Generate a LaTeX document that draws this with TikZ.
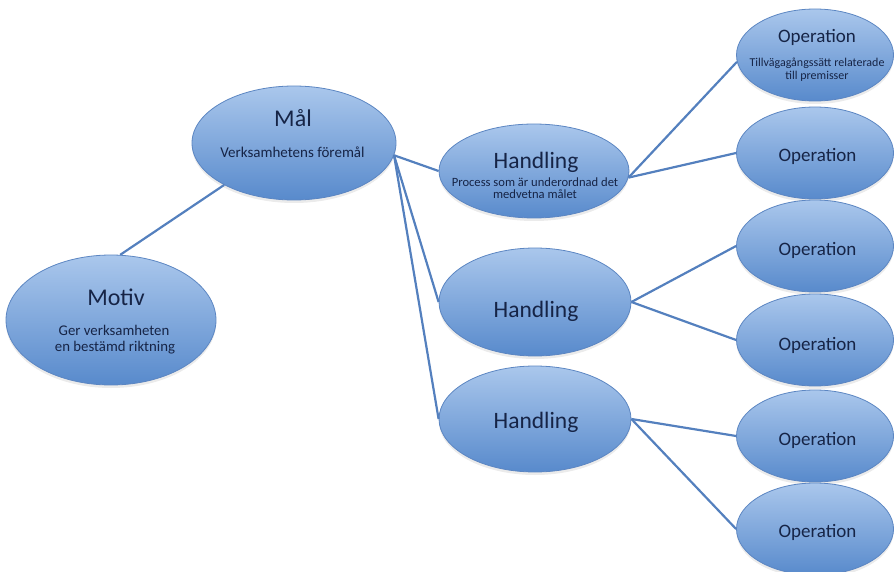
\documentclass[tikz,border=0pt]{standalone}
\usepackage{fontspec}
\setmainfont{Carlito}
\usetikzlibrary{shapes.geometric,shadows}
\definecolor{topc}{RGB}{170,199,236}
\definecolor{midc}{RGB}{124,165,222}
\definecolor{botc}{RGB}{88,138,204}
\definecolor{edgec}{RGB}{92,134,194}
\definecolor{txtc}{RGB}{22,36,70}
\definecolor{linec}{RGB}{84,128,190}
\tikzset{
  bub/.style={ellipse, draw=edgec, line width=0.8pt, top color=topc, middle color=midc, bottom color=botc,
    inner sep=0pt,
    drop shadow={opacity=0.16, shadow xshift=0pt, shadow yshift=-3pt}},
  opbub/.style={bub, minimum width=157pt, minimum height=92pt},
  conn/.style={draw=linec, line width=2.2pt},
  txt/.style={inner sep=0pt, anchor=base, text=txtc},
  ttl/.style={txt, font=\fontsize{24}{26}\selectfont},
  htl/.style={txt, font=\fontsize{23.5}{26}\selectfont},
  otl/.style={txt, font=\fontsize{19}{21}\selectfont},
}
\begin{document}
\begin{tikzpicture}[x=1pt,y=-1pt]
\useasboundingbox (0,0) rectangle (894,572);
% ellipses
\node[bub, minimum width=210pt, minimum height=130pt] (motiv) at (111,320) {};
\node[bub, minimum width=204pt, minimum height=114pt] (mal) at (294,143) {};
\node[bub, minimum width=190pt, minimum height=94pt] (h1) at (534,171) {};
\node[bub, minimum width=192pt, minimum height=108pt] (h2) at (535,302) {};
\node[bub, minimum width=192pt, minimum height=106pt] (h3) at (535,419) {};
\node[opbub] (op1) at (815,55) {};
\node[opbub] (op2) at (815,153) {};
\node[opbub] (op3) at (815,246) {};
\node[opbub] (op4) at (815,340) {};
\node[opbub] (op5) at (815,436) {};
\node[opbub] (op6) at (815,529) {};
% texts
\node[ttl] (motivT) at (116,305) {Motiv};
\node[txt, font=\fontsize{14.8}{16}\selectfont] (motivS1) at (114,335) {Ger verksamheten};
\node[txt, font=\fontsize{14.8}{16}\selectfont] (motivS2) at (115,351) {en bestämd riktning};
\node[ttl] (malT) at (293,127) {Mål};
\node[txt, font=\fontsize{15}{16}\selectfont] (malS) at (292.5,158) {Verksamhetens föremål};
\node[htl] (h1T) at (536,169) {Handling};
\node[txt, font=\fontsize{12.6}{14}\selectfont] (h1S1) at (535,186.5) {Process som är underordnad det};
\node[txt, font=\fontsize{12.6}{14}\selectfont] (h1S2) at (535,199) {medvetna målet};
\node[htl] (h2T) at (536,317) {Handling};
\node[htl] (h3T) at (536,428) {Handling};
\node[otl] (op1T) at (817,43) {Operation};
\node[txt, font=\fontsize{12}{13}\selectfont] (op1S1) at (817,67) {Tillvägagångssätt relaterade};
\node[txt, font=\fontsize{12}{13}\selectfont] (op1S2) at (817,80) {till premisser};
\node[otl] (op2T) at (817.5,162) {Operation};
\node[otl] (op3T) at (817.5,255) {Operation};
\node[otl] (op4T) at (817.5,350) {Operation};
\node[otl] (op5T) at (817.5,445) {Operation};
\node[otl] (op6T) at (817.5,537) {Operation};
% connectors
\draw[conn] (motiv.82) -- (mal.211);
\draw[conn] (mal.-7) -- (h1.west);
\draw[conn] (mal.-7) -- (h2.west);
\draw[conn] (mal.-7) -- (h3.west);
\draw[conn] (h1.-4) -- (op1.185);
\draw[conn] (h1.-4) -- (op2.west);
\draw[conn] (h2.east) -- (op3.west);
\draw[conn] (h2.east) -- (op4.west);
\draw[conn] (h3.east) -- (op5.west);
\draw[conn] (h3.east) -- (op6.west);
\end{tikzpicture}
\end{document}
